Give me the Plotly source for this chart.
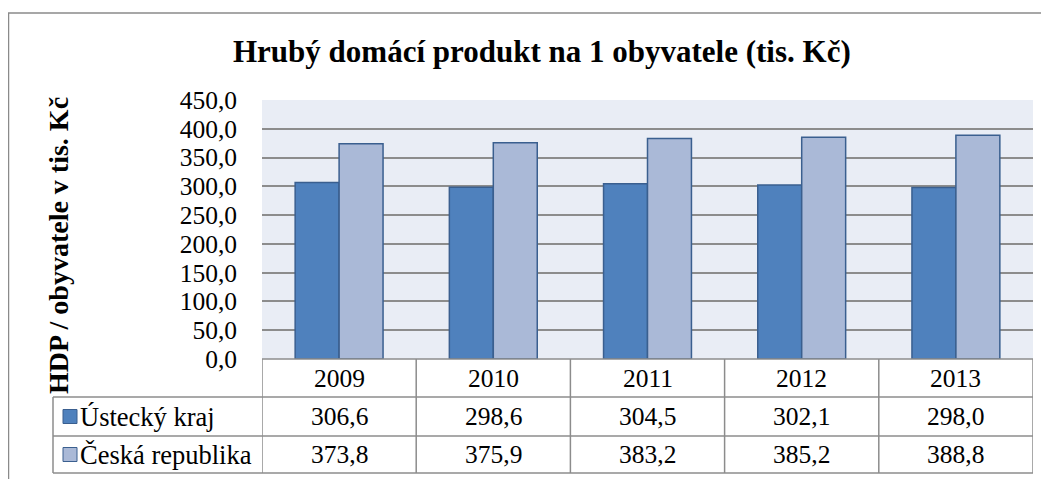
import plotly.graph_objects as go

# the page body has an 8px margin, so the figure starts at (8, 8) in the window
OFF = 8
W, H = 1049 - OFF, 479 - OFF

years = ["2009", "2010", "2011", "2012", "2013"]
series_names = ["Ústecký kraj", "Česká republika"]
ustecky = [306.6, 298.6, 304.5, 302.1, 298.0]
cr = [373.8, 375.9, 383.2, 385.2, 388.8]
colors = ["#4F81BD", "#AAB9D7"]

title_text = "Hrubý domácí produkt na 1 obyvatele (tis. Kč)"
ytitle_text = "HDP / obyvatele v tis. Kč"

FONT = "Liberation Serif"
GRID = "#8C8C8C"
TXT = 25.5


def px(x):
    # window pixel -> paper fraction
    return (x - OFF) / W


def py(y):
    return 1 - (y - OFF) / H


fig = go.Figure()

for name, vals, col in zip(series_names, [ustecky, cr], colors):
    fig.add_trace(
        go.Bar(
            x=years,
            y=vals,
            name=name,
            marker=dict(color=col, line=dict(color="#3A5F8F", width=1.5)),
        )
    )

fig.update_layout(
    template="none",
    width=W,
    height=H,
    autosize=False,
    margin={"l": 0, "r": 0, "t": 0, "b": 0},
    paper_bgcolor="white",
    plot_bgcolor="#E9EDF5",
    barmode="group",
    bargap=0.43,
    bargroupgap=0,
    showlegend=False,
    separators=", ",
    font=dict(family=FONT, size=TXT, color="black"),
)

fig.update_xaxes(
    type="category",
    range=[-0.5, len(years) - 0.5],
    domain=[px(262), px(1033)],
    showticklabels=False,
    showgrid=False,
    showline=False,
    zeroline=False,
    ticks="",
    automargin=False,
)

fig.update_yaxes(
    domain=[py(359), py(100)],
    range=[0, 450],
    dtick=50,
    tick0=0,
    tickformat=".1f",
    showgrid=True,
    gridcolor=GRID,
    gridwidth=1.5,
    zeroline=False,
    showline=False,
    ticks="",
    ticklabelstandoff=24,
    tickfont=dict(family=FONT, size=TXT),
    automargin=False,
)

# outer chart border (runs past the right and bottom edge of the window)
fig.add_shape(type="rect", xref="paper", yref="paper",
              x0=px(8.5), x1=px(1049 + 20), y0=py(479 + 20), y1=py(13),
              line=dict(color="#8A8A8A", width=1.5), layer="below")

# title
fig.add_annotation(text=f"<b>{title_text}</b>", xref="paper", yref="paper",
                   x=px(542), y=py(52), showarrow=False,
                   font=dict(family=FONT, size=31), xanchor="center", yanchor="middle")

# y axis title
fig.add_annotation(text=f"<b>{ytitle_text}</b>", xref="paper", yref="paper",
                   x=px(58), y=py(246), textangle=-90, showarrow=False,
                   font=dict(family=FONT, size=28), xanchor="center", yanchor="middle")

# data table grid
rows_y = [359, 397, 436, 473]
fig.add_shape(type="line", xref="paper", yref="paper",
              x0=px(262), x1=px(1033), y0=py(rows_y[0]), y1=py(rows_y[0]),
              line=dict(color=GRID, width=1.5))
for yy in rows_y[1:]:
    fig.add_shape(type="line", xref="paper", yref="paper",
                  x0=px(53), x1=px(1033), y0=py(yy), y1=py(yy),
                  line=dict(color=GRID, width=1.5))
for i in range(len(years) + 1):
    fig.add_shape(type="line", xref="x", yref="paper",
                  x0=i - 0.5, x1=i - 0.5, y0=py(rows_y[0]), y1=py(rows_y[-1]),
                  line=dict(color=GRID, width=1.5))
fig.add_shape(type="line", xref="paper", yref="paper",
              x0=px(53), x1=px(53), y0=py(rows_y[1]), y1=py(rows_y[-1]),
              line=dict(color=GRID, width=1.5))

# header row (years)
for i, yr in enumerate(years):
    fig.add_annotation(text=yr, xref="x", yref="paper", x=i,
                       y=py((rows_y[0] + rows_y[1]) / 2), showarrow=False,
                       xanchor="center", yanchor="middle")

# value rows with legend keys
for r, (name, vals, col) in enumerate(zip(series_names, [ustecky, cr], colors)):
    yc = (rows_y[r + 1] + rows_y[r + 2]) / 2
    fig.add_shape(type="rect", xref="paper", yref="paper",
                  x0=px(63), x1=px(77), y0=py(yc + 7), y1=py(yc - 7),
                  fillcolor=col, line=dict(color="#3A5F8F", width=1))
    fig.add_annotation(text=name, xref="paper", yref="paper", x=px(78),
                       y=py(yc), showarrow=False, xanchor="left", yanchor="middle",
                       font=dict(size=26.5))
    for i, v in enumerate(vals):
        fig.add_annotation(text=f"{v:.1f}".replace(".", ","), xref="x", yref="paper",
                           x=i, y=py(yc), showarrow=False,
                           xanchor="center", yanchor="middle")

fig.write_html("out.html")
